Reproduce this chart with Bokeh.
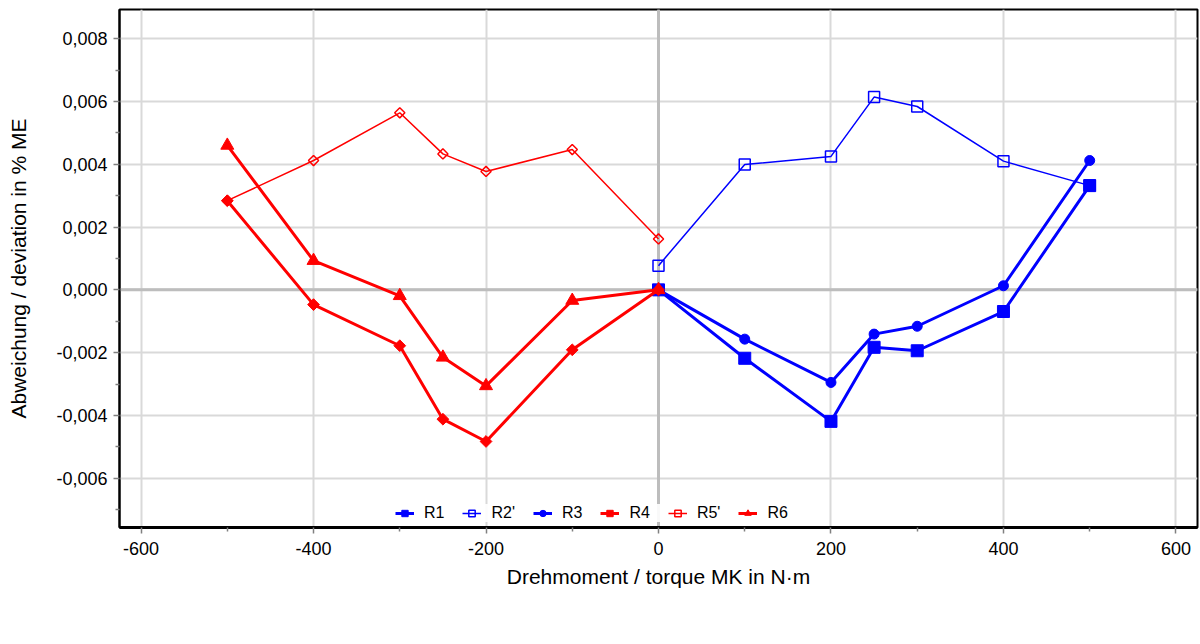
import math
from bokeh.plotting import figure
from bokeh.models import (Range1d, FixedTicker, CustomJSTickFormatter, Span,
                          Legend, LegendItem)
from bokeh.embed import file_html
from bokeh.resources import INLINE

# ---- data ----
torque_pos = [0, 100, 200, 250, 300, 400, 500]
torque_neg = [-500, -400, -300, -250, -200, -100, 0]

r1 = [0.0, -0.00218, -0.00419, -0.00183, -0.00194, -0.00069, 0.00332]
r2p = [0.00077, 0.00399, 0.00425, 0.00614, 0.00584, 0.00410, 0.00332]
r3 = [0.0, -0.00157, -0.00295, -0.00141, -0.00116, 0.00013, 0.00412]
r4 = [0.00284, -0.00047, -0.00178, -0.00412, -0.00483, -0.00191, 0.0]
r5p = [0.00284, 0.00412, 0.00564, 0.00433, 0.00377, 0.00447, 0.00162]
r6 = [0.00460, 0.00093, -0.00019, -0.00215, -0.00306, -0.00034, 0.0]

x_ticks = [-600, -400, -200, 0, 200, 400, 600]
x_tick_labels = ["-600", "-400", "-200", "0", "200", "400", "600"]
x_minor = [-500, -300, -100, 100, 300, 500]
y_ticks = [-0.006, -0.004, -0.002, 0.0, 0.002, 0.004, 0.006, 0.008]
y_tick_labels = ["-0,006", "-0,004", "-0,002", "0,000", "0,002", "0,004", "0,006", "0,008"]
y_minor = [-0.007, -0.005, -0.003, -0.001, 0.001, 0.003, 0.005, 0.007]

x_title = "Drehmoment / torque MK in N·m"
y_title = "Abweichung / deviation in % ME"

BLUE = "#0000ff"
RED = "#ff0000"
FONT = "Liberation Sans"

W, H = 1200, 644
FL, FR, FT, FB = 119, 1197, 9, 527

p = figure(width=W, height=H,
           x_range=Range1d(-625, 625), y_range=Range1d(-0.00757, 0.00893),
           output_backend="svg", toolbar_location=None,
           min_border_left=FL, min_border_right=W - FR, min_border_top=FT,
           min_border_bottom=H - FB)
p.background_fill_color = "white"
p.border_fill_color = "white"
p.outline_line_color = "black"
p.outline_line_width = 2

fmt_js = """
let best = -1; let bd = 1e99;
for (let i = 0; i < tv.length; i++) { const d = Math.abs(tv[i] - tick); if (d < bd) { bd = d; best = i; } }
return (best >= 0 && bd < 1e-9 * Math.max(1, Math.abs(tick)) + 1e-12) ? tl[best] : "";
"""

p.xaxis.ticker = FixedTicker(ticks=x_ticks, minor_ticks=x_minor)
p.xaxis.formatter = CustomJSTickFormatter(args=dict(tv=x_ticks, tl=x_tick_labels), code=fmt_js)
p.yaxis.ticker = FixedTicker(ticks=y_ticks, minor_ticks=y_minor)
p.yaxis.formatter = CustomJSTickFormatter(args=dict(tv=y_ticks, tl=y_tick_labels), code=fmt_js)

for ax in (p.xaxis[0], p.yaxis[0]):
    ax.major_label_text_font = FONT
    ax.major_label_text_font_size = "18px"
    ax.major_label_text_color = "black"
    ax.major_tick_in = 0
    ax.major_tick_out = 6
    ax.minor_tick_in = 0
    ax.minor_tick_out = 4
    ax.major_tick_line_color = "#808080"
    ax.minor_tick_line_color = "#808080"
    ax.major_tick_line_width = 1.5
    ax.minor_tick_line_width = 1.5
    ax.axis_line_color = "black"
    ax.axis_line_width = 2
    ax.axis_label_text_font = FONT
    ax.axis_label_text_font_size = "21px"
    ax.axis_label_text_font_style = "normal"
    ax.axis_label_text_color = "black"
p.xaxis.axis_line_width = 3
p.xaxis.major_label_standoff = 8
p.xaxis.axis_label_standoff = 7
p.yaxis.major_label_standoff = 6
p.yaxis.axis_label_standoff = 23

p.xaxis.axis_label = x_title
p.yaxis.axis_label = y_title

p.xgrid.grid_line_color = "#d9d9d9"
p.ygrid.grid_line_color = "#d9d9d9"
p.xgrid.grid_line_width = 2
p.ygrid.grid_line_width = 2

p.add_layout(Span(location=0, dimension="width", line_color="#bdbdbd", line_width=3, level="underlay"))
p.add_layout(Span(location=0, dimension="height", line_color="#bdbdbd", line_width=3, level="underlay"))

items = []

def series(name, xs, ys, color, lw, marker, size, filled, angle=0.0):
    lr = p.line(xs, ys, line_color=color, line_width=lw)
    kw = dict(marker=marker, size=size, line_color=color, angle=angle,
              line_width=1.5 if not filled else 1)
    if filled:
        kw.update(fill_color=color)
    else:
        kw.update(fill_alpha=0)
    sr = p.scatter(xs, ys, **kw)
    items.append(LegendItem(label=name, renderers=[lr, sr]))

series("R1", torque_pos, r1, BLUE, 3, "square", 12, True)
series("R2'", torque_pos, r2p, BLUE, 1.5, "square", 11, False)
series("R3", torque_pos, r3, BLUE, 3, "circle", 10, True)
series("R4", torque_neg, r4, RED, 3, "square", 8.3, True, math.pi / 4)
series("R5'", torque_neg, r5p, RED, 1.5, "square", 7.2, False, math.pi / 4)
series("R6", torque_neg, r6, RED, 3, "triangle", 13, True)

legend = Legend(items=items, orientation="horizontal", location=(276, 5),
                glyph_width=19, glyph_height=16, label_standoff=10, spacing=18,
                padding=3, margin=0, label_text_font=FONT, label_text_font_size="16px",
                label_text_color="black", label_height=16,
                border_line_color=None, background_fill_color="white",
                background_fill_alpha=0.9)
p.add_layout(legend)

open("out.html", "w").write(file_html(p, INLINE))
